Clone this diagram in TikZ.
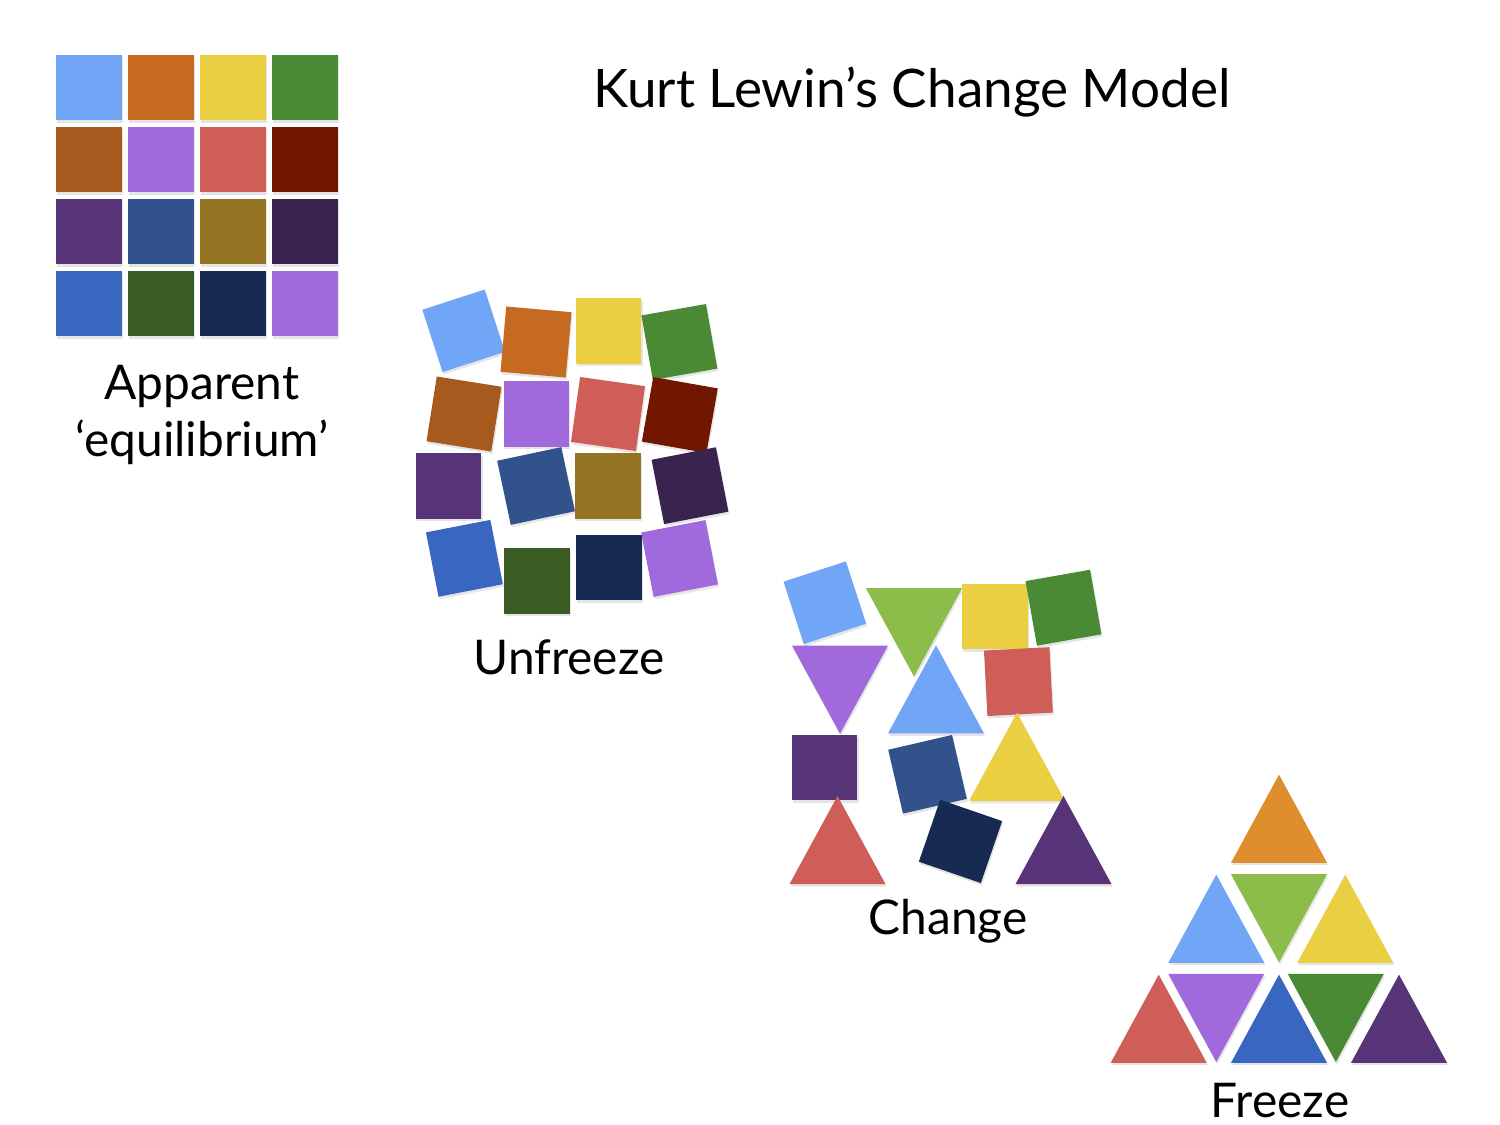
\documentclass[tikz,border=0pt]{standalone}
\usepackage{fontspec}
\setmainfont{Lato}
\usetikzlibrary{shapes.geometric,shadows}
\definecolor{lblue}{HTML}{71A6F7}
\definecolor{orng}{HTML}{C56A20}
\definecolor{yell}{HTML}{EBCF42}
\definecolor{grn}{HTML}{4B8A34}
\definecolor{brwn}{HTML}{A65A1E}
\definecolor{lilac}{HTML}{A06ADC}
\definecolor{rred}{HTML}{D05E58}
\definecolor{maroon}{HTML}{731600}
\definecolor{plum}{HTML}{563477}
\definecolor{steel}{HTML}{31528A}
\definecolor{olive}{HTML}{957424}
\definecolor{aubergine}{HTML}{3A234E}
\definecolor{bblue}{HTML}{3966BF}
\definecolor{dkgrn}{HTML}{3A5B23}
\definecolor{navy}{HTML}{172A52}
\definecolor{lime}{HTML}{8CBD4B}
\definecolor{amber}{HTML}{DE8E2C}
\begin{document}
\begin{tikzpicture}
	[x=0.01cm,y=-0.01cm,every node/.style={inner sep=0pt, outer sep=0pt}]
	\tikzstyle{tile} = [rectangle, minimum size=0.655cm, drop shadow={opacity=0.2, shadow xshift=0.3pt, shadow yshift=-0.7pt}];
	\tikzstyle{triup} = [regular polygon, regular polygon sides=3, minimum size=1.108cm, yscale=1.06, drop shadow={opacity=0.2, shadow xshift=0.3pt, shadow yshift=-0.7pt}];
	\tikzstyle{tridown} = [triup, rotate=180];
	\tikzstyle{stagetext} = [font=\fontsize{13.6}{16}\selectfont, align=center];

	\useasboundingbox[fill=white] (0,0) rectangle (1500,1125);

	\node[font=\fontsize{15.1}{18}\selectfont] (title) at (912,92) {Kurt Lewin’s Change Model};

	% apparent equilibrium
	\node[tile, fill=lblue] (e1) at (89,87.5) {};
	\node[tile, fill=orng] (e2) at (161,87.5) {};
	\node[tile, fill=yell] (e3) at (233,87.5) {};
	\node[tile, fill=grn] (e4) at (305,87.5) {};
	\node[tile, fill=brwn] (e5) at (89,159.5) {};
	\node[tile, fill=lilac] (e6) at (161,159.5) {};
	\node[tile, fill=rred] (e7) at (233,159.5) {};
	\node[tile, fill=maroon] (e8) at (305,159.5) {};
	\node[tile, fill=plum] (e9) at (89,231.5) {};
	\node[tile, fill=steel] (e10) at (161,231.5) {};
	\node[tile, fill=olive] (e11) at (233,231.5) {};
	\node[tile, fill=aubergine] (e12) at (305,231.5) {};
	\node[tile, fill=bblue] (e13) at (89,303.5) {};
	\node[tile, fill=dkgrn] (e14) at (161,303.5) {};
	\node[tile, fill=navy] (e15) at (233,303.5) {};
	\node[tile, fill=lilac] (e16) at (305,303.5) {};
	\node[stagetext] (equil) at (202,415) {Apparent\\‘equilibrium’};

	% unfreeze
	\node[tile, fill=lblue, rotate=18] (u1) at (463.6,330.8) {};
	\node[tile, fill=orng, rotate=-5] (u2) at (536,342) {};
	\node[tile, fill=yell] (u3) at (608.7,331) {};
	\node[tile, fill=grn, rotate=10] (u4) at (679.4,342) {};
	\node[tile, fill=brwn, rotate=-9] (u5) at (464,414) {};
	\node[tile, fill=lilac] (u6) at (536.3,414) {};
	\node[tile, fill=rred, rotate=-8] (u7) at (608,414) {};
	\node[tile, fill=maroon, rotate=-10] (u8) at (679.8,415) {};
	\node[tile, fill=plum] (u9) at (448.7,486) {};
	\node[tile, fill=steel, rotate=12] (u10) at (536,486) {};
	\node[tile, fill=olive] (u11) at (608,486) {};
	\node[tile, fill=aubergine, rotate=11] (u12) at (690,485.7) {};
	\node[tile, fill=bblue, rotate=11] (u13) at (464.4,558.3) {};
	\node[tile, fill=dkgrn] (u14) at (537,581) {};
	\node[tile, fill=navy] (u15) at (609,567.5) {};
	\node[tile, fill=lilac, rotate=11] (u16) at (679.5,558.5) {};
	\node[stagetext] (unfreeze) at (569,657) {Unfreeze};

	% change
	\node[tile, fill=lblue, rotate=18] (c1) at (824.8,602.7) {};
	\node[tridown, fill=lime] (c2) at (914,617.6) {};
	\node[tile, fill=yell] (c3) at (995,616.5) {};
	\node[tile, fill=grn, rotate=10] (c4) at (1063.5,607.7) {};
	\node[tridown, fill=lilac] (c5) at (840,675) {};
	\node[triup, fill=lblue] (c6) at (936,704) {};
	\node[tile, fill=rred, rotate=3] (c7) at (1018.4,681.6) {};
	\node[tile, fill=plum] (c8) at (824.7,767.5) {};
	\node[tile, fill=steel, rotate=13] (c9) at (927.5,774.3) {};
	\node[triup, fill=yell] (c10) at (1017,771.5) {};
	\node[triup, fill=rred] (c11) at (837.5,854.7) {};
	\node[tile, fill=navy, rotate=-19] (c12) at (960.5,841.4) {};
	\node[triup, fill=plum] (c13) at (1063.5,854.7) {};
	\node[stagetext] (change) at (948,921) {Change};

	% freeze
	\node[triup, fill=amber] (f1) at (1279,833.4) {};
	\node[triup, fill=lblue] (f2) at (1216.3,933.4) {};
	\node[tridown, fill=lime] (f3) at (1279,903.6) {};
	\node[triup, fill=yell] (f4) at (1345.3,933.4) {};
	\node[triup, fill=rred] (f5) at (1158.7,1033.4) {};
	\node[tridown, fill=lilac] (f6) at (1216.3,1003.3) {};
	\node[triup, fill=bblue] (f7) at (1279,1033.4) {};
	\node[tridown, fill=grn] (f8) at (1335.8,1003.3) {};
	\node[triup, fill=plum] (f9) at (1399,1033.4) {};
	\node[stagetext] (freeze) at (1280,1101) {Freeze};
\end{tikzpicture}
\end{document}
